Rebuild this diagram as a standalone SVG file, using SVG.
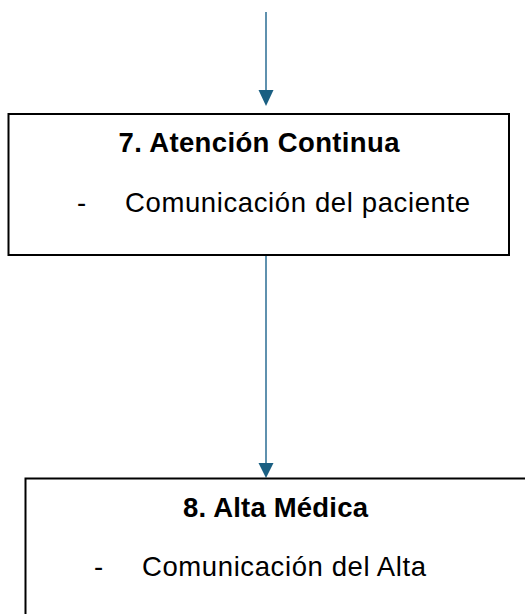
<svg xmlns="http://www.w3.org/2000/svg" width="525" height="614" viewBox="0 0 525 614">
<defs>
<style>
.box{fill:#ffffff;stroke:#000000;stroke-width:2}
.conn{stroke:#2a6d93;stroke-width:1.5;fill:none}
.head{fill:#1a5f82}
.t{font-family:"Liberation Sans",Arial,sans-serif;font-size:27.5px;fill:#000000}
.b{font-weight:bold;text-anchor:middle}
</style>
</defs>
<rect width="525" height="614" fill="#ffffff"/>
<g id="connectors">
<line class="conn" x1="266" y1="12" x2="266" y2="92"/>
<path class="head" d="M258.5,90 L273.5,90 L266,106 Z"/>
<line class="conn" x1="266" y1="256" x2="266" y2="465"/>
<path class="head" d="M258.5,463 L273.5,463 L266,478 Z"/>
</g>
<g id="node7">
<rect class="box" x="8.5" y="114" width="500.5" height="141"/>
<text class="t b" x="259" y="152" textLength="281" lengthAdjust="spacing">7. Atención Continua</text>
<text class="t" x="77" y="212">-</text>
<text class="t" x="125" y="212" textLength="345" lengthAdjust="spacing">Comunicación del paciente</text>
</g>
<g id="node8">
<rect class="box" x="25.5" y="478.5" width="520" height="150"/>
<text class="t b" x="275.5" y="517" textLength="185" lengthAdjust="spacing">8. Alta Médica</text>
<text class="t" x="94" y="576">-</text>
<text class="t" x="142" y="576" textLength="284" lengthAdjust="spacing">Comunicación del Alta</text>
</g>
</svg>
